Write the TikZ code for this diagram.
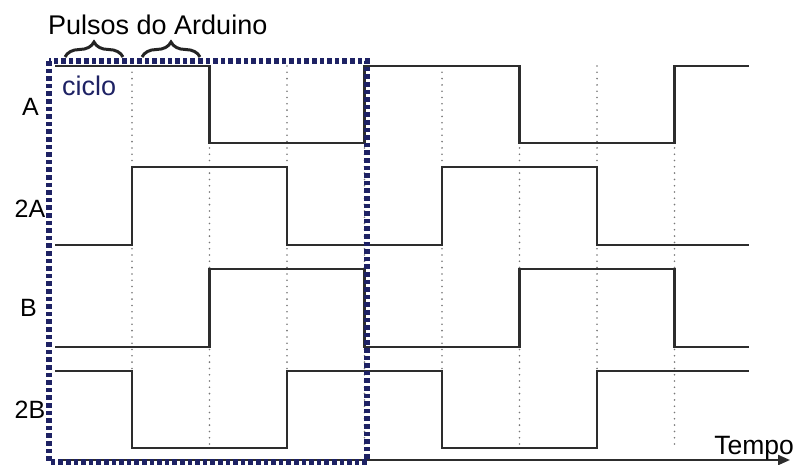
\documentclass[tikz,border=0pt]{standalone}
\usepackage{fontspec}
\setmainfont{Liberation Sans}
\usetikzlibrary{arrows.meta,decorations.pathreplacing}
\definecolor{navy}{RGB}{30,34,100}
\definecolor{wave}{RGB}{45,45,45}
\definecolor{grid}{RGB}{120,120,120}
\tikzset{
  signal/.style={draw=wave, line width=2.5pt, line join=miter},
  gridline/.style={draw=grid, line width=1.8pt, line cap=round, dash pattern=on 0pt off 6.3pt},
  cyclebox/.style={draw=navy, line width=5.2pt, dash pattern=on 4.6pt off 3pt},
  sigtag/.style={anchor=base, inner sep=0pt, font=\fontsize{25}{28}\selectfont},
  bigtxt/.style={inner sep=0pt, font=\fontsize{27}{30}\selectfont},
  pulsebrace/.style={draw=wave!80!black, line width=3pt,
    decorate, decoration={brace, amplitude=15pt}},
}
\begin{document}
\begin{tikzpicture}[x=1pt, y=-1pt]
  \useasboundingbox (0,0) rectangle (795,464);

  % time grid: one dotted line per Arduino pulse
  \foreach \k in {1,...,8} {
    \draw[gridline] ({54.5+77.5*\k},66) -- ({54.5+77.5*\k},444);
  }

  % the four coil signals
  \draw[signal] (55,66) -| (209.5,143) -| (364.5,66) -| (519.5,143) -| (674.5,66) -- (749,66);
  \draw[signal] (55,245) -| (132,167) -| (287,245) -| (442,167) -| (597,245) -- (749,245);
  \draw[signal] (55,347) -| (209.5,269) -| (364.5,347) -| (519.5,269) -| (674.5,347) -- (749,347);
  \draw[signal] (55,371) -| (132,448) -| (287,371) -| (442,448) -| (597,371) -- (749,371);

  % signal names
  \node[sigtag] (sa)  at (30.5,115) {A};
  \node[sigtag] (s2a) at (30,217) {2A};
  \node[sigtag] (sb)  at (28.5,316) {B};
  \node[sigtag] (s2b) at (30,418) {2B};

  % time axis
  \coordinate (t0) at (62,460);
  \coordinate (t1) at (790,460);
  \draw[draw=wave, line width=2.2pt, -{Triangle[length=12pt,width=10pt]}] (t0) -- (t1);
  \node[bigtxt, anchor=base east, font=\fontsize{26.5}{30}\selectfont] (tempo) at (794,454) {Tempo};

  % pulse braces and title
  \coordinate (b1a) at (65,57);  \coordinate (b1b) at (123,57);
  \coordinate (b2a) at (142,57); \coordinate (b2b) at (200,57);
  \draw[pulsebrace] (b1a) -- (b1b);
  \draw[pulsebrace] (b2a) -- (b2b);
  \node[bigtxt, anchor=base west] (pulsos) at (48,34) {Pulsos do Arduino};

  % one full cycle
  \draw[cyclebox] (49,61) rectangle (367,462);
  \node[bigtxt, anchor=base west, text=navy] (ciclo) at (62,95) {ciclo};
\end{tikzpicture}
\end{document}
